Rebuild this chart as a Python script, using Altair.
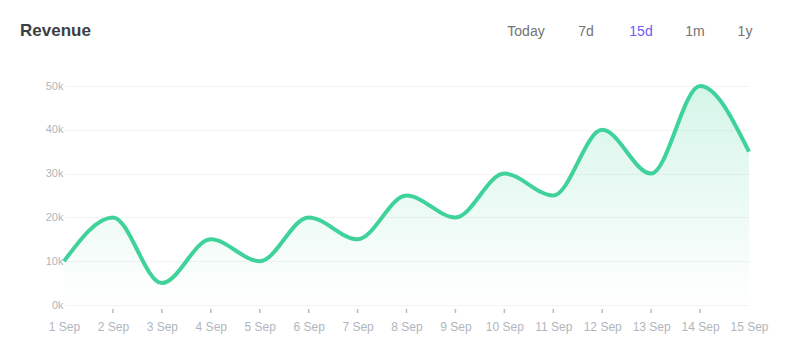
import altair as alt
import pandas as pd

days = [1, 2, 3, 4, 5, 6, 7, 8, 9, 10, 11, 12, 13, 14, 15]
revenue = [10000, 20000, 5000, 15000, 10000, 20000, 15000, 25000, 20000,
           30000, 25000, 40000, 30000, 50000, 35000]
y_ticks = [0, 10000, 20000, 30000, 40000, 50000]
tick_days = days[1:-1]
buttons = ["Today", "7d", "15d", "1m", "1y"]
button_x = [462, 522, 577, 631, 681]
button_color = ["#737373", "#737373", "#6e5cf5", "#737373", "#737373"]

df = pd.DataFrame({"day": days, "revenue": revenue})
ticks_df = pd.DataFrame({"day": tick_days})
btn_df = pd.DataFrame({"label": buttons, "px": button_x, "color": button_color})

LINE = "#3fd29a"
W, H = 685, 219

x = alt.X("day:Q", scale=alt.Scale(domain=[1, 15], nice=False, zero=False),
          axis=alt.Axis(values=days, labelExpr="datum.value + ' Sep'", title=None,
                        grid=False, domain=False, ticks=False, labelPadding=16,
                        labelFontSize=12, labelColor="#b1b6bd", labelFont="Liberation Sans",
                        labelFlush=False))
y = alt.Y("revenue:Q", scale=alt.Scale(domain=[0, 50000], nice=False),
          axis=alt.Axis(values=y_ticks, labelExpr="(datum.value/1000) + 'k'", title=None,
                        grid=True, gridColor="#f3f3f3", gridWidth=1, domain=False,
                        ticks=False, labelPadding=1, labelFontSize=11,
                        labelColor="#b1b6bd", labelFont="Liberation Sans"))

area = alt.Chart(df).mark_area(
    interpolate="monotone",
    color=alt.Gradient(gradient="linear", x1=0, y1=0, x2=0, y2=1,
                       stops=[alt.GradientStop(color="rgba(64,210,155,0.22)", offset=0),
                              alt.GradientStop(color="rgba(64,210,155,0.0)", offset=1)]),
).encode(x=x, y=y)

line = alt.Chart(df).mark_line(interpolate="monotone", color=LINE, strokeWidth=4).encode(
    x="day:Q", y="revenue:Q")

xticks = alt.Chart(ticks_df).mark_rule(color="#b4bcc4", strokeWidth=1.5).encode(
    x="day:Q", y=alt.value(H + 4), y2=alt.value(H + 8))

title = alt.Chart(pd.DataFrame({"t": ["Revenue"]})).mark_text(
    align="left", baseline="alphabetic", fontSize=17, fontWeight=600,
    font="Liberation Sans", color="#3b3f45").encode(
    x=alt.value(-44), y=alt.value(-50), text="t:N")

btns = alt.Chart(btn_df).mark_text(
    align="center", baseline="alphabetic", fontSize=14, font="Liberation Sans").encode(
    x=alt.X("px:Q", scale=None), y=alt.value(-50), text="label:N",
    color=alt.Color("color:N", scale=None))

chart = alt.layer(area, line, xticks, title, btns).properties(
    width=W, height=H,
    autosize=alt.AutoSizeParams(type="none"),
    padding={"left": 64, "top": 86, "right": 41, "bottom": 48},
    background="white",
).configure_view(stroke=None)

chart.save("out.html", embed_options={"renderer": "svg", "actions": False})
